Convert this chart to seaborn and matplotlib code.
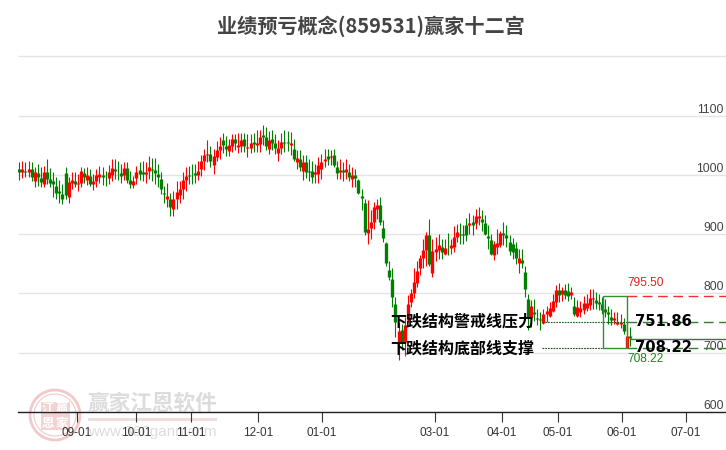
import numpy as np
import pandas as pd
import matplotlib
matplotlib.use("Agg")
import matplotlib.pyplot as plt
from matplotlib.patches import Rectangle
import seaborn as sns

title = "业绩预亏概念(859531)赢家十二宫"
y_ticks = [600, 700, 800, 900, 1000, 1100, 1200]
y_labels = ["600", "700", "800", "900", "1000", "1100", ""]
x_pos = [18.7, 37.8, 55.7, 77.4, 98.2, 134.8, 156.5, 174.7, 195.4, 216.2]
x_labels = ["09-01", "10-01", "11-01", "12-01", "01-01", "03-01", "04-01", "05-01", "06-01", "07-01"]
level_top = 795.50
level_warn = 751.86
level_base = 708.22
level_last = 723

candle_dir = ("grgrgrggrg" "ggggggrrgr" "rgrgrrrggr" "rgggrggrrg" "grrgggggrg"
              "rrrrrgggrr" "rrgrrrggrr" "grrgrrgrrg" "grggrrggrg" "rgrgggrrrr"
              "grggrgrgrg" "gggrrrrggg" "gggrgrrrrr" "rrrgrrrgrg" "rrrgggrgrr"
              "ggggrrrggg" "ggrgggrggg" "rrrrrgrgg" "rgrrrrrrgg" "ggggrrrgrg")
body_top = [1010,1010,1007,1010,1010,1004,1003,994,1005,1005,
            993,990,981,973,967,1003,988,991,990,987,
            1007,1003,1000,998,990,1000,1001,1000,995,1004,
            1011,1010,1007,1003,1011,1011,991,990,1005,1008,
            1005,1005,1014,1009,1008,1001,993,970,964,959,
            959,971,976,991,998,1000,1000,1003,1007,1024,
            1034,1035,1035,1031,1042,1049,1058,1049,1051,1060,
            1060,1051,1058,1060,1047,1054,1055,1054,1064,1067,
            1063,1058,1060,1054,1046,1055,1056,1056,1054,1044,
            1029,1027,1021,1022,1006,1007,1005,1017,1021,1027,
            1031,1031,1034,1013,1008,1008,1010,1004,1000,999,
            991,965,953,908,921,945,949,949,911,885,
            839,825,782,737,738,747,782,801,820,837,
            859,873,898,899,872,875,882,878,876,877,
            881,895,904,900,900,915,919,920,930,930,
            926,918,896,890,883,885,902,902,899,887,
            883,876,860,856,836,791,778,768,758,757,
            765,771,775,788,806,805,805,806,804,
            802,779,777,775,784,784,792,792,789,786,
            782,774,768,760,759,751,751,749,728,729]
body_bot = [1004,1004,1004,1004,996,990,997,988,985,993,
            987,985,970,970,959,966,962,987,985,984,
            987,996,992,985,985,989,997,996,994,994,
            1000,1006,1006,998,1000,991,985,983,994,1001,
            1002,1002,1007,1008,1003,996,976,967,960,945,
            942,960,966,976,991,998,999,1000,1000,1010,
            1024,1034,1024,1017,1030,1042,1051,1044,1040,1049,
            1054,1047,1048,1048,1045,1045,1052,1051,1052,1064,
            1049,1043,1054,1046,1037,1045,1054,1054,1050,1026,
            1021,1013,1006,1005,1004,996,1001,1001,1009,1023,
            1026,1030,1016,1003,1004,1004,1004,997,993,994,
            970,961,903,902,911,920,942,920,893,851,
            828,794,751,718,718,718,757,785,801,818,
            843,859,873,849,835,870,873,869,866,876,
            877,878,895,899,899,899,915,915,918,928,
            920,900,894,866,864,878,881,899,893,872,
            870,859,851,851,808,760,760,765,756,755,
            750,765,762,771,785,798,799,798,796,
            798,766,762,768,772,775,781,791,784,782,
            772,768,765,755,755,748,749,737,708,724]
highs = [1022,1023,1022,1024,1021,1013,1019,1013,1015,1026,
         1011,1004,996,991,984,1014,996,1005,1004,1001,
         1013,1011,1014,1009,1001,1010,1015,1013,1007,1017,
         1026,1026,1023,1018,1021,1021,1007,998,1015,1021,
         1023,1021,1031,1028,1028,1018,1004,981,987,970,
         973,990,990,1004,1013,1015,1018,1019,1024,1034,
         1044,1058,1049,1044,1057,1063,1070,1066,1061,1069,
         1068,1070,1070,1071,1068,1069,1071,1075,1076,1084,
         1081,1074,1076,1068,1058,1071,1076,1074,1073,1060,
         1041,1041,1033,1034,1027,1024,1018,1030,1035,1044,
         1044,1041,1044,1024,1027,1022,1027,1018,1014,1010,
         993,976,959,957,940,954,959,962,923,886,
         855,842,794,752,749,761,797,808,842,855,
         864,892,903,926,892,895,900,892,892,902,
         892,913,917,919,916,928,935,932,943,946,
         940,932,915,900,889,909,906,920,915,898,
         894,886,875,875,847,799,789,791,773,768,
         774,779,785,799,815,817,811,816,817,
         811,794,789,788,796,799,808,808,802,799,
         794,791,779,774,768,768,765,758,744,744]
lows = [992,994,996,996,989,979,981,980,979,984,
        979,963,959,953,950,959,953,976,979,972,
        980,987,983,981,975,980,987,983,981,985,
        990,993,991,987,991,987,977,977,984,991,
        990,987,993,990,984,979,967,953,945,931,
        931,942,953,959,973,984,984,986,991,998,
        1008,1021,1014,1001,1023,1027,1036,1032,1032,1038,
        1041,1036,1038,1038,1030,1037,1038,1038,1038,1050,
        1041,1035,1041,1035,1023,1035,1038,1040,1034,1024,
        1010,1007,991,994,990,986,987,987,993,1013,
        1016,1016,1014,993,993,990,993,990,980,980,
        967,940,898,883,892,909,926,915,886,847,
        822,777,727,687,704,695,751,777,793,811,
        831,842,847,847,828,855,858,858,864,864,
        867,870,886,883,883,889,900,898,909,916,
        906,898,875,864,856,866,878,881,878,864,
        858,849,835,842,794,738,744,754,746,738,
        749,751,760,768,777,785,788,791,788,
        791,762,760,760,765,771,772,774,774,772,
        765,760,749,746,749,746,741,732,708,712]

W, H = 726, 450
sns.set_theme(style="white")
plt.rcParams["font.family"] = ["Noto Sans CJK SC", "DejaVu Sans"]
plt.rcParams["lines.solid_capstyle"] = "butt"

idx = np.arange(len(body_top))
base = pd.DataFrame({"i": idx, "dir": list(candle_dir), "top": body_top, "bot": body_bot, "hi": highs, "lo": lows})
palette = {"r": "#ff0000", "g": "#008000"}
wicks = base.melt(id_vars=["i", "dir"], value_vars=["hi", "lo"], value_name="price")
bodies = base.melt(id_vars=["i", "dir"], value_vars=["top", "bot"], value_name="price")

fig = plt.figure(figsize=(W / 100, H / 100), dpi=100, facecolor="white")
ax = fig.add_axes([18 / W, (H - 412) / H, (W - 18) / W, (412 - 30) / H])
ax.set_facecolor("none")
ax.set_xlim(-0.42, 229.2)
ax.set_ylim(600, 1244.2)


def fx(px):
    return px / W


def fy(py):
    return (H - py) / H


# Watermark (under everything)
for r, lw in [(25, 2.0), (21, 0.8)]:
    fig.add_artist(plt.Circle((55, H - 415), r, transform=None, fill=False, ec="#f2c8c8", lw=lw, zorder=-5))
fig.add_artist(Rectangle((fx(41), fy(430)), 29 / W, 28 / H, transform=fig.transFigure, fc="#f3d2d2", ec="none", zorder=-5))
for s, px, py in [("江", 48, 408), ("赢", 62, 408), ("恩", 48, 423), ("家", 62, 423)]:
    fig.text(fx(px), fy(py), s, color="white", fontsize=9, fontweight="bold", ha="center", va="center", zorder=-4)
fig.text(fx(152), fy(403), "赢家江恩软件", color="#dcdcdc", fontsize=15.6, ha="center", va="center", fontweight="bold", zorder=-4)
fig.add_artist(Rectangle((fx(88), fy(421)), 129 / W, 3 / H, transform=fig.transFigure, fc="#ecdede", ec="none", zorder=-5))
fig.text(fx(152), fy(432), "www.360gann.com", color="#dcdcdc", fontsize=11, ha="center", va="center", family="Liberation Sans", zorder=-4)

# Candles
sns.lineplot(data=wicks, x="i", y="price", units="i", hue="dir", palette=palette, estimator=None,
             sort=False, lw=0.8, legend=False, ax=ax, zorder=3)
sns.lineplot(data=bodies, x="i", y="price", units="i", hue="dir", palette=palette, estimator=None,
             sort=False, lw=2.4, legend=False, ax=ax, zorder=3)

# Pressure / support levels
x_end = ax.get_xlim()[1]
i_box_l, i_box_r = 189.3, 197.0
sns.lineplot(x=[i_box_r, x_end], y=[level_top, level_top], color="#f03030", lw=1.0, dashes=(7, 4), ax=ax, zorder=4)
sns.lineplot(x=[169.4, i_box_r], y=[level_warn, level_warn], color="#106010", lw=0.8, dashes=(1.5, 1), ax=ax, zorder=4)
sns.lineplot(x=[i_box_r, x_end], y=[level_warn, level_warn], color="#308030", lw=1.0, dashes=(7, 4), ax=ax, zorder=4)
sns.lineplot(x=[169.4, i_box_l], y=[level_base, level_base], color="#204020", lw=0.8, dashes=(1.5, 1), ax=ax, zorder=4)
sns.lineplot(x=[i_box_r, x_end], y=[level_base, level_base], color="#308030", lw=1.0, dashes=(7, 4), ax=ax, zorder=4)
sns.lineplot(x=[198, x_end], y=[level_last, level_last], color="#308030", lw=1.0, ax=ax, zorder=4)
ax.add_patch(Rectangle((i_box_l, level_base), i_box_r - i_box_l, level_top - level_base,
                       fill=False, ec="#309030", lw=1.0, zorder=4))

ax.text(197.3, 807, f"{level_top:.2f}", color="#e02020", fontsize=8.6, family="Liberation Sans", va="bottom", ha="left", zorder=6)
ax.text(197.3, 699, f"{level_base:.2f}", color="#208020", fontsize=8.6, family="Liberation Sans", va="top", ha="left", zorder=6)
ax.text(199.8, level_warn, f"{level_warn:.2f}", color="black", fontsize=10.6, fontweight="bold", family="DejaVu Sans", va="center", ha="left", zorder=7)
ax.text(199.8, level_base, f"{level_base:.2f}", color="black", fontsize=10.6, fontweight="bold", family="DejaVu Sans", va="center", ha="left", zorder=7)
ax.text(120.3, level_warn, "下跌结构警戒线压力", color="black", fontsize=11.5, fontweight="bold", va="center", ha="left", zorder=7)
ax.text(120.3, 707, "下跌结构底部线支撑", color="black", fontsize=11.5, fontweight="bold", va="center", ha="left", zorder=7)

# Axes
ax.set_yticks(y_ticks)
ax.set_yticklabels(y_labels, family="Liberation Sans", fontsize=8.7, color="#444444")
ax.yaxis.tick_right()
ax.tick_params(axis="y", length=0, pad=-1.5, labelright=True)
for lab in ax.get_yticklabels():
    lab.set_ha("right")
    lab.set_va("bottom")
ax.grid(axis="y", color="#e4e4e4", lw=1.0)
ax.set_axisbelow(True)
ax.set_xticks(x_pos)
ax.set_xticklabels(x_labels, family="Liberation Sans", fontsize=8.5, color="#333333")
ax.tick_params(axis="x", length=7, width=0.8, color="#333333", pad=4, bottom=True)
ax.set_xlabel("")
ax.set_ylabel("")
for side in ["top", "left", "right"]:
    ax.spines[side].set_visible(False)
ax.spines["bottom"].set_color("#222222")
ax.spines["bottom"].set_linewidth(1.0)

fig.text(fx(371), fy(26), title, color="#444444", fontsize=14.5, fontweight="bold", ha="center", va="center")

fig.savefig("out.png", dpi=100)
